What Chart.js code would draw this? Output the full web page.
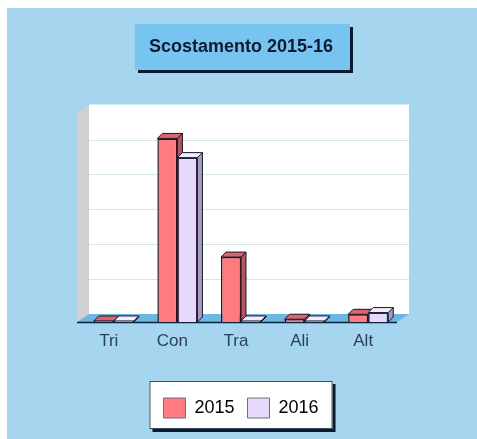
<!DOCTYPE html>
<html>
<head>
<meta charset="utf-8">
<style>
  html, body { margin: 0; background: #fff; overflow: hidden; }
  #wrap { position: absolute; left: 7px; top: 8px; width: 470px; height: 431px; }
</style>
<script src="https://cdn.jsdelivr.net/npm/chart.js@4"></script>
</head>
<body>
<div id="wrap"><canvas id="chart"></canvas></div>
<script>
var categories = ["Tri", "Con", "Tra", "Ali", "Alt"];
var values2015 = [0.03, 5.26, 1.86, 0.08, 0.22];
var values2016 = [0.03, 4.71, 0.03, 0.03, 0.27];
var yTicks = [0, 1, 2, 3, 4, 5, 6];

var DX = 12, DY = -8, BAR_D = 5;

function poly(ctx, pts, fill, stroke) {
  ctx.beginPath();
  pts.forEach(function (p, i) {
    if (i === 0) ctx.moveTo(p[0], p[1]);
    else ctx.lineTo(p[0], p[1]);
  });
  ctx.closePath();
  ctx.fillStyle = fill;
  ctx.fill();
  if (stroke) {
    ctx.strokeStyle = stroke;
    ctx.lineWidth = 1;
    ctx.stroke();
  }
}

function box(ctx, x, y, w, h, fill, line) {
  ctx.fillStyle = "#0b1a2e";
  ctx.fillRect(x + 3, y + 3, w, h);
  ctx.fillStyle = fill;
  ctx.fillRect(x, y, w, h);
  if (line) {
    ctx.strokeStyle = line;
    ctx.lineWidth = 1;
    ctx.strokeRect(x + 0.5, y + 0.5, w - 1, h - 1);
  }
}

// room, title box and legend box go under everything else
var roomPlugin = {
  id: "room",
  beforeDraw: function (chart) {
    var ctx = chart.ctx;
    var a = chart.chartArea;
    var y = chart.scales.y;
    var l = a.left - 5, r = a.right - 3, b = a.bottom;

    ctx.save();
    ctx.fillStyle = "#a6d5ef";
    ctx.fillRect(0, 0, chart.width, chart.height);

    box(ctx, 128, 16, 215, 46, "#78c4f0");

    var lg = chart.legend;
    var hits = lg.legendHitBoxes;
    var lgLeft = hits[0].left - 14;
    var lgRight = hits[hits.length - 1].left + hits[hits.length - 1].width + 14;
    box(ctx, lgLeft, lg.top - 4, lgRight - lgLeft, 48, "#ffffff", "#3b4d60");

    // back wall with the grid lines taken from the value scale
    poly(ctx, [[l + DX, a.top + DY], [r + DX, a.top + DY], [r + DX, b + DY], [l + DX, b + DY]], "#ffffff");
    poly(ctx, [[l, a.top], [l + DX, a.top + DY], [l + DX, b + DY], [l, b]], "#cfd0d2");
    poly(ctx, [[l, b], [l + DX, b + DY], [r + DX, b + DY], [r, b]], "#6db7e3");
    ctx.strokeStyle = "#d5e6e8";
    ctx.lineWidth = 1;
    yTicks.forEach(function (t) {
      if (t === 0 || t === 6) return;
      var py = Math.round(y.getPixelForValue(t) + DY) + 0.5;
      ctx.beginPath();
      ctx.moveTo(l + DX, py);
      ctx.lineTo(r + DX, py);
      ctx.stroke();
    });
    ctx.strokeStyle = "#0c2340";
    ctx.lineWidth = 1.5;
    ctx.beginPath();
    ctx.moveTo(l, b + 0.5);
    ctx.lineTo(r, b + 0.5);
    ctx.stroke();
    ctx.restore();
  },
  // sides and tops of the bars, from the bar elements
  beforeDatasetsDraw: function (chart) {
    var ctx = chart.ctx;
    var looks = [
      { side: "#b4555c", top: "#d9666c" },
      { side: "#a79cc0", top: "#f3ecff" },
    ];
    ctx.save();
    chart.data.datasets.forEach(function (ds, i) {
      chart.getDatasetMeta(i).data.forEach(function (bar) {
        var p = bar.getProps(["x", "y", "base", "width"], true);
        var x1 = p.x - p.width / 2, x2 = p.x + p.width / 2;
        poly(ctx, [[x2, p.y], [x2 + BAR_D, p.y - BAR_D], [x2 + BAR_D, p.base - BAR_D], [x2, p.base]], looks[i].side, "#14182c");
        poly(ctx, [[x1, p.y], [x1 + BAR_D, p.y - BAR_D], [x2 + BAR_D, p.y - BAR_D], [x2, p.y]], looks[i].top, "#14182c");
      });
    });
    ctx.restore();
  },
};

var config = {
  type: "bar",
  data: {
    labels: categories,
    datasets: [
      {
        label: "2015",
        data: values2015,
        backgroundColor: "#ff7b7f",
        borderColor: "#2a1420",
        borderWidth: 1.5,
      },
      {
        label: "2016",
        data: values2016,
        backgroundColor: "#e6d9fb",
        borderColor: "#2a2440",
        borderWidth: 1.5,
      },
    ],
  },
  options: {
    responsive: true,
    maintainAspectRatio: false,
    animation: false,
    layout: { padding: { left: 75, right: 77, top: 0, bottom: 11 } },
    scales: {
      x: {
        grid: { display: false },
        border: { display: false },
        afterFit: function (scale) {
          scale.height = 63;
        },
        ticks: {
          color: "#2b3f55",
          font: { family: "Liberation Sans", size: 17 },
          padding: 1,
          labelOffset: -5,
          maxRotation: 0,
        },
      },
      y: {
        display: false,
        min: 0,
        max: 6,
      },
    },
    datasets: { bar: { categoryPercentage: 0.63, barPercentage: 1 } },
    plugins: {
      title: {
        display: true,
        text: "Scostamento 2015-16",
        color: "#0d1b33",
        font: { family: "Liberation Sans", size: 18, weight: "bold" },
        padding: { top: 28, bottom: 55 },
      },
      legend: {
        position: "bottom",
        labels: {
          color: "#2a2a2e",
          font: { family: "Liberation Sans", size: 18 },
          boxWidth: 22,
          boxHeight: 20,
          padding: 13,
          generateLabels: function (chart) {
            return chart.data.datasets.map(function (ds, i) {
              return {
                text: ds.label,
                fillStyle: ds.backgroundColor,
                strokeStyle: "#6f6f7a",
                lineWidth: 1,
                datasetIndex: i,
              };
            });
          },
        },
      },
      tooltip: { enabled: false },
    },
  },
  plugins: [roomPlugin],
};

var ctxOne = document.getElementById("chart").getContext("2d");
new Chart(ctxOne, config);
</script>
</body>
</html>
